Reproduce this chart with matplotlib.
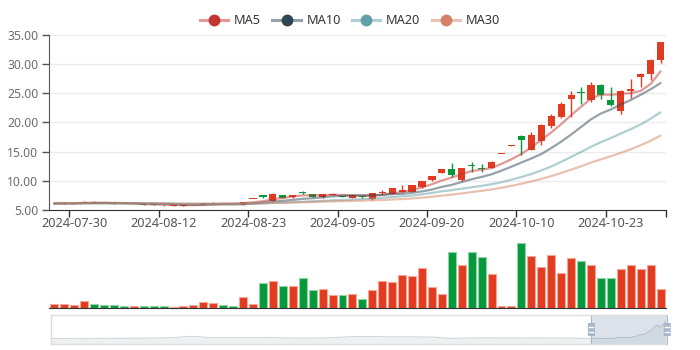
import numpy as np
import pandas as pd
import matplotlib
matplotlib.use("Agg")
import matplotlib.pyplot as plt
from matplotlib.lines import Line2D
from matplotlib.legend_handler import HandlerTuple
from matplotlib.patches import Rectangle, FancyBboxPatch

plt.rcParams['font.family'] = ['Noto Sans', 'DejaVu Sans']

dates = ['2024-07-26', '2024-07-29', '2024-07-30', '2024-07-31',
         '2024-08-01', '2024-08-02', '2024-08-05', '2024-08-06', '2024-08-07', '2024-08-08', '2024-08-09',
         '2024-08-12', '2024-08-13', '2024-08-14', '2024-08-15', '2024-08-16',
         '2024-08-19', '2024-08-20', '2024-08-21', '2024-08-22', '2024-08-23',
         '2024-08-26', '2024-08-27', '2024-08-28', '2024-08-29', '2024-08-30',
         '2024-09-02', '2024-09-03', '2024-09-04', '2024-09-05', '2024-09-06',
         '2024-09-09', '2024-09-10', '2024-09-11', '2024-09-12', '2024-09-13',
         '2024-09-18', '2024-09-19', '2024-09-20',
         '2024-09-23', '2024-09-24', '2024-09-25', '2024-09-26', '2024-09-27', '2024-09-30',
         '2024-10-08', '2024-10-09', '2024-10-10', '2024-10-11',
         '2024-10-14', '2024-10-15', '2024-10-16', '2024-10-17', '2024-10-18',
         '2024-10-21', '2024-10-22', '2024-10-23', '2024-10-24', '2024-10-25',
         '2024-10-28', '2024-10-29', '2024-10-30']

opens = [6.12, 6.13, 6.14, 6.22, 6.45, 6.32, 6.15, 6.05, 5.98, 5.98,
         5.95, 5.85, 5.76, 5.77, 5.80, 5.95, 6.12, 6.20, 6.05, 5.90,
         6.88, 7.55, 6.60, 7.50, 7.17, 7.98, 7.74, 7.17, 7.55, 7.40,
         7.10, 7.40, 6.93, 7.85, 7.74, 8.07, 8.08, 8.98, 10.10, 11.40,
         11.96, 10.13, 12.65, 12.20, 12.23, 14.59, 16.00, 17.65, 15.30, 16.80,
         19.40, 20.85, 23.92, 25.10, 23.80, 26.37, 23.90, 21.90, 25.34, 27.80,
         28.20, 30.60]
closes = [6.16, 6.17, 6.17, 6.45, 6.28, 6.20, 6.00, 5.98, 6.03, 5.88,
          5.88, 5.78, 5.80, 5.81, 5.88, 6.15, 6.25, 6.12, 5.98, 6.30,
          6.93, 7.20, 7.74, 7.08, 7.60, 7.93, 7.27, 7.74, 7.62, 7.25,
          7.56, 7.18, 7.85, 8.05, 8.76, 8.40, 9.20, 9.90, 10.80, 11.96,
          10.93, 12.13, 12.50, 12.05, 13.26, 14.59, 16.05, 17.00, 17.77, 19.50,
          21.07, 23.10, 24.66, 25.00, 26.37, 24.66, 22.95, 25.34, 25.70, 28.25,
          30.60, 33.70]
highs = [6.20, 6.22, 6.21, 6.50, 6.52, 6.35, 6.18, 6.08, 6.06, 6.00,
         5.97, 5.88, 5.83, 5.84, 5.91, 6.20, 6.38, 6.24, 6.08, 6.40,
         6.95, 7.60, 7.96, 7.55, 7.65, 8.25, 7.78, 7.80, 7.68, 7.45,
         7.62, 7.44, 7.90, 8.40, 8.80, 9.27, 9.25, 9.95, 10.90, 12.00,
         13.10, 12.20, 13.26, 12.90, 13.40, 14.59, 16.05, 17.75, 18.40, 19.70,
         21.40, 23.46, 25.34, 25.97, 26.90, 26.50, 26.00, 25.50, 27.40, 28.40,
         30.90, 33.70]
lows = [6.08, 6.10, 6.10, 6.18, 6.24, 6.15, 5.97, 5.95, 5.95, 5.85,
        5.85, 5.76, 5.74, 5.75, 5.78, 5.92, 6.10, 6.08, 5.95, 5.88,
        6.85, 7.10, 6.55, 7.00, 7.12, 7.70, 7.20, 7.12, 7.50, 7.20,
        7.05, 7.12, 6.70, 7.80, 7.70, 8.00, 8.05, 8.85, 10.00, 11.30,
        10.60, 10.00, 11.55, 11.45, 12.15, 14.59, 15.95, 14.40, 15.25, 16.10,
        19.07, 20.80, 20.95, 23.10, 23.50, 24.00, 22.80, 21.36, 24.10, 26.00,
        27.20, 30.10]
volumes = [4.3, 4.3, 3.0, 7.3, 4.6, 3.3, 3.6, 2.3, 2.3, 2.3,
           2.0, 2.0, 1.3, 2.3, 3.0, 6.0, 5.6, 3.6, 2.3, 11.6,
           4.3, 25.6, 27.6, 22.0, 22.3, 30.0, 18.0, 19.3, 13.6, 13.3,
           14.3, 9.0, 18.3, 27.0, 26.3, 33.3, 32.0, 40.3, 21.6, 14.3,
           56.3, 43.3, 56.0, 51.0, 34.6, 2.0, 2.3, 65.0, 52.3, 41.6,
           53.3, 35.6, 50.6, 47.3, 43.6, 30.3, 30.3, 39.6, 43.3, 39.3,
           43.6, 19.0]

# closes of the 29 sessions before 2024-07-26, needed to warm up MA30
prior_closes = [6.42, 6.38, 6.35, 6.30, 6.33, 6.28, 6.25, 6.22, 6.26, 6.20,
                6.18, 6.15, 6.19, 6.22, 6.17, 6.12, 6.10, 6.14, 6.18, 6.15,
                6.11, 6.08, 6.12, 6.16, 6.13, 6.10, 6.07, 6.11, 6.14]

# coarse closes of the earlier history, only used for the zoom slider overview
history = [6.0, 6.1, 6.2, 6.3, 6.4, 6.5, 7.2, 9.3, 7.4, 7.2, 7.6, 7.5, 6.6, 6.5,
           7.2, 8.8, 9.0, 8.4, 8.5, 8.2, 6.1, 6.9, 7.0, 6.8, 6.9, 6.7, 6.5]
history_days = 446

ma_windows = [5, 10, 20, 30]
ma_colors = ['#c23531', '#2f4554', '#61a0a8', '#d48265']

up_color = '#e23b1f'
down_color = '#05993b'
up_edge = '#f3a796'
down_edge = '#8fd3a6'

W, H = 700, 350
fig = plt.figure(figsize=(W / 100, H / 100), dpi=100)
left, right = 49.3, 665.5
ax = fig.add_axes([left / W, 1 - 210 / H, (right - left) / W, (210 - 34.7) / H])
axv = fig.add_axes([left / W, 1 - 308.3 / H, (right - left) / W, (308.3 - 240) / H])
axs = fig.add_axes([51 / W, 1 - 344 / H, 615 / W, 29 / H])

x = np.arange(len(dates))
o = np.array(opens)
c = np.array(closes)
up = c >= o
colors = np.where(up, up_color, down_color)

# candles: wick then body
ax.vlines(x, lows, highs, colors=colors, linewidth=1, zorder=3)
body_low = np.minimum(o, c)
body_h = np.maximum(np.abs(c - o), 0.12)
ax.bar(x, body_h, bottom=body_low, width=0.72, color=colors, linewidth=0, zorder=4)

# moving averages
all_closes = pd.Series(prior_closes + closes)
for n, col in zip(ma_windows, ma_colors):
    ma = all_closes.rolling(n).mean().to_numpy()[len(prior_closes):]
    ax.plot(x, ma, color=col, alpha=0.5, lw=1.6, zorder=5, solid_capstyle='round',
            solid_joinstyle='round')

ax.set_xlim(-0.5, len(dates) - 0.5)
ax.set_ylim(5, 35)
yt = np.arange(5, 36, 5)
ax.set_yticks(yt)
ax.set_yticklabels([f'{v:.2f}' for v in yt])
ax.grid(axis='y', color='#ececec', lw=1)
ax.set_axisbelow(True)
for s in ['top', 'right']:
    ax.spines[s].set_visible(False)
ax.spines['left'].set_color('#555555')
ax.spines['bottom'].set_color('#333333')
ax.tick_params(axis='y', length=5, width=1, color='#555555', labelcolor='#6e6e6e',
               labelsize=8.8, pad=3)

label_idx = x[2::9]
ax.set_xticks(label_idx)
ax.set_xticklabels([dates[i] for i in label_idx])
ax.set_xticks(list(label_idx - 0.5) + [len(dates) - 0.5], minor=True)
ax.tick_params(axis='x', which='major', length=0, labelcolor='#555555', labelsize=9.2, pad=5)
ax.tick_params(axis='x', which='minor', length=5, width=1, color='#333333')

# volume
axv.bar(x, volumes, width=0.8, color=colors, edgecolor=np.where(up, up_edge, down_edge),
        linewidth=0.8)
axv.set_xlim(-0.5, len(dates) - 0.5)
axv.set_ylim(0, 68.3)
for s in ['top', 'right', 'left']:
    axv.spines[s].set_visible(False)
axv.spines['bottom'].set_color('#333333')
axv.set_xticks([])
axv.set_yticks([])

# zoom slider with the price overview
hx = np.linspace(0, history_days, len(history), endpoint=False)
wx = history_days + x
sx = np.concatenate([hx, wx])
sy = np.array(history + closes)
span = sy.max() - sy.min()
lo, hi = sy.min() - 0.3 * span, sy.max() + 0.3 * span
axs.fill_between(sx, lo, sy, color='#2f4554', alpha=0.08, lw=0)
axs.plot(sx, sy, color='#2f4554', alpha=0.25, lw=0.6)
x0, x1 = 0, history_days + len(dates) - 1
axs.set_xlim(x0, x1)
axs.set_ylim(lo, hi)
axs.set_xticks([])
axs.set_yticks([])
for s in axs.spines.values():
    s.set_color('#dddddd')
    s.set_linewidth(1)

f0 = (history_days - 0.5 - x0) / (x1 - x0)
f1 = 1.002
axs.add_patch(Rectangle((f0, 0), f1 - f0, 1, transform=axs.transAxes,
                        facecolor='#a7b7cc', alpha=0.4, lw=0, clip_on=False))
hw, hh = 7 / 615, 13 / 29
for f in [f0, f1]:
    axs.plot([f, f], [0, 1], transform=axs.transAxes, color='#a7b7cc', lw=0.8, clip_on=False)
    axs.add_patch(FancyBboxPatch((f - hw / 2, 0.5 - hh / 2), hw, hh,
                                 boxstyle='round,pad=0,rounding_size=0.004',
                                 transform=axs.transAxes, facecolor='#a7b7cc', lw=0,
                                 clip_on=False, zorder=5))
    for yy in [0.43, 0.57]:
        axs.plot([f - hw * 0.3, f + hw * 0.3], [yy, yy], transform=axs.transAxes,
                 color='white', lw=1, clip_on=False, zorder=6)

# legend
handles = [(Line2D([], [], color=col, alpha=0.5, lw=2.2),
            Line2D([], [], color=col, marker='o', ls='', markersize=7.5))
           for col in ma_colors]
labels = [f'MA{n}' for n in ma_windows]
fig.legend(handles, labels, handler_map={tuple: HandlerTuple(ndivide=1)},
           loc='center', bbox_to_anchor=(0.5, 1 - 21 / H), ncol=4, frameon=False,
           handlelength=2.2, handletextpad=0.45, columnspacing=0.9,
           fontsize=9.2, labelcolor='#333333')

fig.savefig('out.png', dpi=100)
